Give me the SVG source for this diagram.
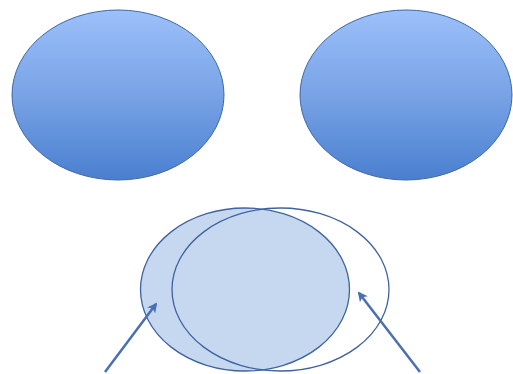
<svg xmlns="http://www.w3.org/2000/svg" width="513" height="374" viewBox="0 0 513 374">
<defs>
<linearGradient id="g" x1="0" y1="0" x2="0" y2="1">
<stop offset="0" stop-color="#9cc0fa"/>
<stop offset="0.5" stop-color="#78a3e6"/>
<stop offset="1" stop-color="#4a7fcf"/>
</linearGradient>
<marker id="ah" viewBox="0 0 10 10" refX="8" refY="5" markerWidth="4" markerHeight="4" orient="auto" markerUnits="strokeWidth">
<path d="M0,0 L10,5 L0,10 L2.5,5 Z" fill="#4a70b0"/>
</marker>
<style>
.top{fill:url(#g);stroke:#3f66a3;stroke-width:1}
.arr{stroke:#4a70b0;stroke-width:2.5;fill:none;marker-end:url(#ah)}
</style>
</defs>
<rect width="513" height="374" fill="#ffffff"/>
<g id="ellipse-left"><ellipse class="top" cx="118" cy="95" rx="106" ry="85"/></g>
<g id="ellipse-right"><ellipse class="top" cx="406" cy="95" rx="106" ry="85"/></g>
<g id="shaded-ellipse"><ellipse cx="245" cy="289.5" rx="104.5" ry="81.5" fill="#c6d8f0" stroke="#3f62a0" stroke-width="1.3"/></g>
<g id="outline-ellipse"><ellipse cx="280.5" cy="289.5" rx="108.5" ry="81.5" fill="none" stroke="#3f62a0" stroke-width="1.3"/></g>
<g id="connectors">
<line class="arr" x1="105" y1="372" x2="156" y2="304"/>
<line class="arr" x1="420" y1="372" x2="359" y2="293"/>
</g>
</svg>
